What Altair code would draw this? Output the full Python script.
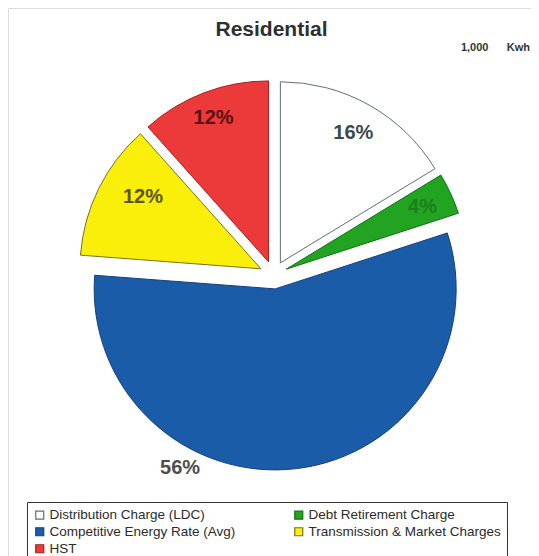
import altair as alt
import pandas as pd

# ---- data ----
categories = [
    "Distribution Charge (LDC)",
    "Debt Retirement Charge",
    "Competitive Energy Rate (Avg)",
    "Transmission & Market Charges",
    "HST",
]
shares = [16.3, 3.7, 56.2, 12.2, 11.6]
labels = ["16%", "4%", "56%", "12%", "12%"]

# ---- styling ----
fills = ["#ffffff", "#22a322", "#1b5ca8", "#f9ef0a", "#ec3a3a"]
strokes = ["#5f6f70", "#137013", "#17407a", "#7a7020", "#a82020"]
label_colors = ["#3a4a4c", "#1a801a", "#4d4d4d", "#5e5410", "#5a1010"]
label_radius = [149, 150, 203, 138, 154]
label_theta_offset = [0.0, 0.0, 0.607, 0.087, 0.0]

# legend fills its grid column by column; this order gives rows
# (Distribution, Debt) / (Competitive, Transmission) / (HST)
legend_order = [0, 2, 4, 1, 3]
legend_domain = [categories[i] for i in legend_order]
legend_fills = [fills[i] for i in legend_order]
legend_strokes = [strokes[i] for i in legend_order]

FONT = "Liberation Sans"
CX, CY = 265.5, 267.0      # pie centre (px)
R = 181                    # pie radius
EXPLODE = 14               # slice explosion distance (px)

df = pd.DataFrame({
    "category": categories,
    "share": shares,
    "label": labels,
    "order": list(range(len(categories))),
})

base = (
    alt.Chart(df)
    .transform_window(cum="sum(share)", sort=[alt.SortField("order")], frame=[None, 0])
    .transform_joinaggregate(total="sum(share)")
    .transform_calculate(mid="2*PI*(datum.cum - datum.share/2)/datum.total")
    .transform_calculate(
        px=f"{CX} + {EXPLODE}*sin(datum.mid)",
        py=f"{CY} - {EXPLODE}*cos(datum.mid)",
    )
)

enc_common = dict(
    theta=alt.Theta("share:Q", stack=True),
    order=alt.Order("order:Q"),
    x=alt.X("px:Q", scale=None, axis=None),
    y=alt.Y("py:Q", scale=None, axis=None),
)

pie = base.mark_arc(outerRadius=R, strokeWidth=1).encode(
    fill=alt.Fill(
        "category:N",
        scale=alt.Scale(domain=legend_domain, range=legend_fills),
        legend=alt.Legend(
            title=None,
            orient="none",
            legendX=19,
            legendY=494,
            columns=2,
            columnPadding=56,
            rowPadding=2,
            symbolType="square",
            symbolSize=64,
            symbolStrokeWidth=1.2,
            labelFont=FONT,
            labelFontSize=13.5,
            labelColor="#2b2b2b",
            labelLimit=0,
            labelOffset=3,
            strokeColor="#333333",
            padding=6,
        ),
    ),
    stroke=alt.Stroke("category:N", scale=alt.Scale(domain=legend_domain, range=legend_strokes)),
    **enc_common,
)

layers = [pie]
for i in range(len(categories)):
    txt = (
        base.transform_calculate(t=f"datum.order == {i} ? datum.label : ''")
        .mark_text(
            radius=label_radius[i],
            thetaOffset=label_theta_offset[i],
            font=FONT,
            fontSize=20,
            fontWeight="bold",
            align="center",
            baseline="middle",
        )
        .encode(text=alt.Text("t:N"), color=alt.value(label_colors[i]), **enc_common)
    )
    layers.append(txt)

note = (
    alt.Chart(pd.DataFrame({"t": ["1,000\u00a0\u00a0\u00a0\u00a0\u00a0\u00a0Kwh"]}))
    .mark_text(font=FONT, fontSize=11, fontWeight="bold", align="right", color="#333333")
    .encode(x=alt.value(522), y=alt.value(40), text="t:N")
)
layers.append(note)

chart = (
    alt.layer(*layers)
    .properties(
        width=523,
        height=548,
        autosize="none",
        padding=0,
        title=alt.TitleParams(
            "Residential",
            font=FONT,
            fontSize=21,
            fontWeight="bold",
            color="#2f2f2f",
            anchor="middle",
            dx=2,
            dy=36,
        ),
    )
    .configure_view(strokeWidth=0, stroke="transparent")
    .configure(background="#ffffff")
)

chart.save("out.html", embed_options={"renderer": "svg", "actions": False})
